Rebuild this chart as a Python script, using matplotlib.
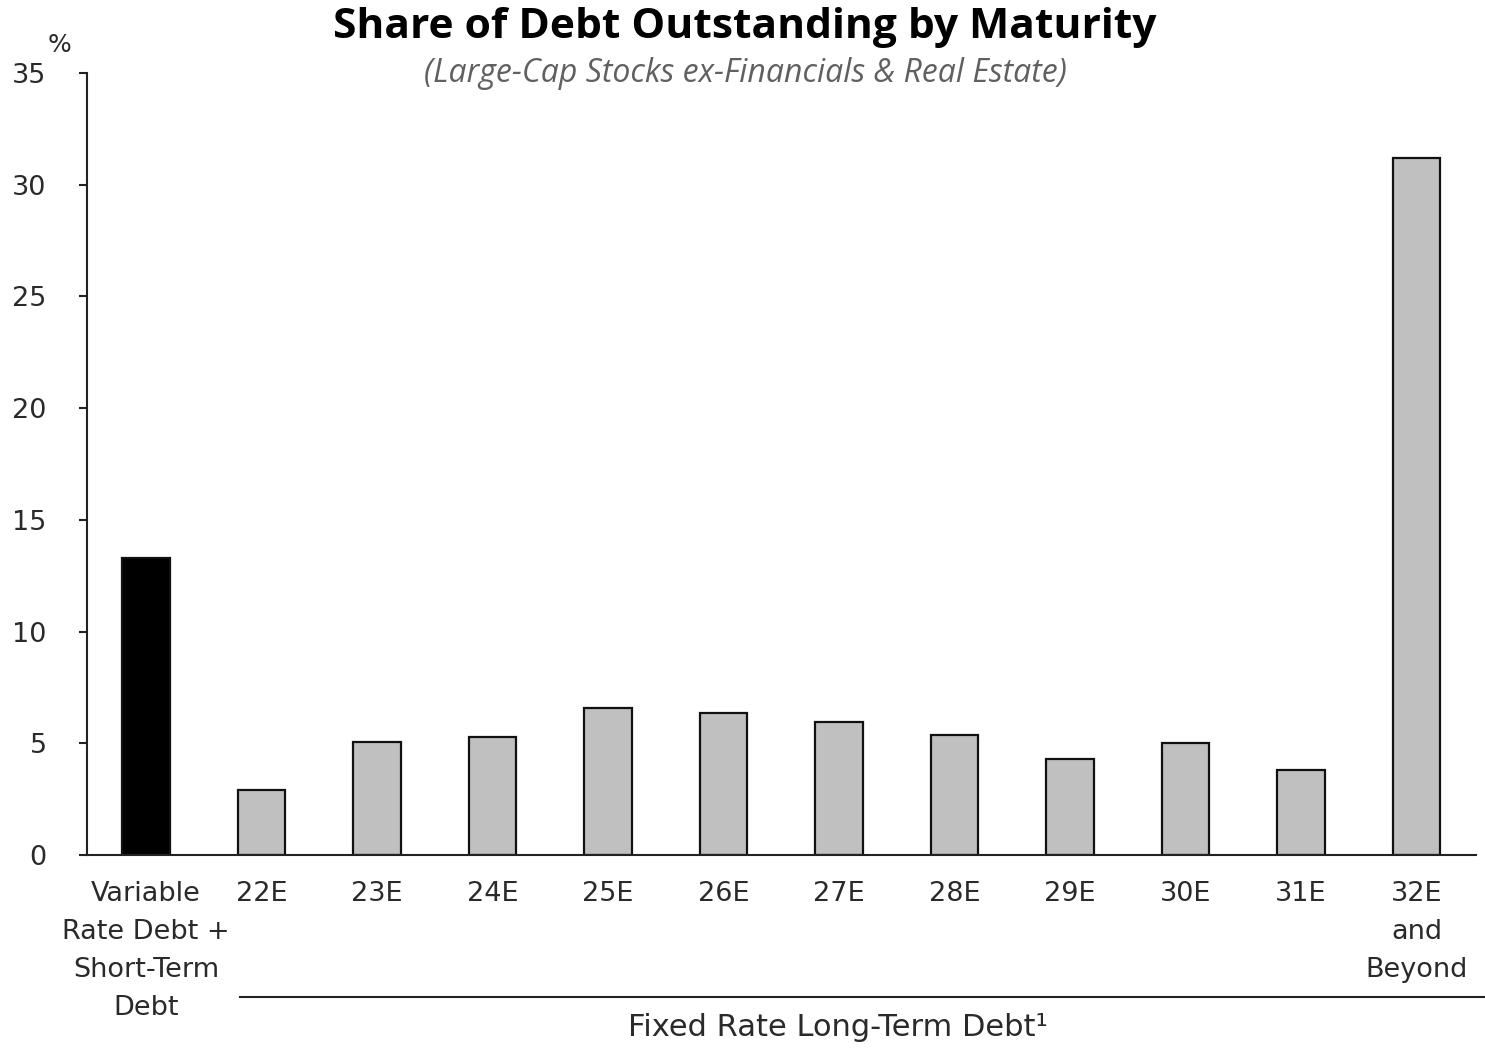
import matplotlib
matplotlib.use("Agg")
import matplotlib.pyplot as plt
from matplotlib.lines import Line2D

# Share of debt outstanding by maturity bucket (%)
categories = ["Variable\nRate Debt +\nShort-Term\nDebt", "22E", "23E", "24E", "25E",
              "26E", "27E", "28E", "29E", "30E", "31E", "32E\nand\nBeyond"]
shares = [13.3, 2.9, 5.05, 5.3, 6.6, 6.35, 5.95, 5.35, 4.3, 5.0, 3.8, 31.2]
bar_colors = ["#000000"] + ["#C0C0C0"] * 11
yticks = [0, 5, 10, 15, 20, 25, 30, 35]

TXT = "#2a2a2a"
LBL_FONT = ["DejaVu Sans"]
LBL_SIZE = 19.5

fig = plt.figure(figsize=(14.85, 10.48), dpi=100)
ax = fig.add_axes([87 / 1485, 193 / 1048, (1476 - 87) / 1485, (855 - 73) / 1048])

x = list(range(len(categories)))
ax.bar(x, shares, width=0.41, color=bar_colors, edgecolor="#111111", linewidth=1.6)

ax.set_xlim(-0.51, 11.515)
ax.set_ylim(0, 35)
ax.set_yticks(yticks)
ax.set_yticklabels([str(t) for t in yticks], fontsize=LBL_SIZE, color=TXT,
                   family=LBL_FONT)
ax.set_xticks(x)
ax.set_xticklabels(categories, fontsize=LBL_SIZE, color=TXT, family=LBL_FONT,
                   linespacing=1.6)

ax.tick_params(axis="y", length=6, width=1.5, color="#222222", pad=23, direction="out")
ax.tick_params(axis="x", length=0, pad=19)
for lab in ax.get_xticklabels():
    lab.set_verticalalignment("top")

for side in ["top", "right"]:
    ax.spines[side].set_visible(False)
for side in ["left", "bottom"]:
    ax.spines[side].set_linewidth(1.5)
    ax.spines[side].set_color("#222222")

ax.text(-0.028, 1.02, "%", transform=ax.transAxes, fontsize=18, color=TXT,
        family=LBL_FONT, ha="left", va="bottom")

# bracket under the fixed-rate maturity buckets
fig.add_artist(Line2D([240 / 1485, 1485 / 1485], [1 - 997 / 1048, 1 - 997 / 1048],
                      color="#222222", linewidth=1.5))
fig.text(838 / 1485, 1 - 1028 / 1048, "Fixed Rate Long-Term Debt\u00b9", fontsize=22,
         color=TXT, family=LBL_FONT, ha="center", va="center")

fig.text(745 / 1485, 1 - 28 / 1048, "Share of Debt Outstanding by Maturity",
         fontsize=30.6, fontweight="bold", color="#000000", family=["Open Sans"],
         ha="center", va="center")
fig.text(745 / 1485, 1 - 73 / 1048, "(Large-Cap Stocks ex-Financials & Real Estate)",
         fontsize=23, style="italic", color="#606060",
         family=["Open Sans"], ha="center", va="center")

fig.savefig("out.png", dpi=100, facecolor="white")
